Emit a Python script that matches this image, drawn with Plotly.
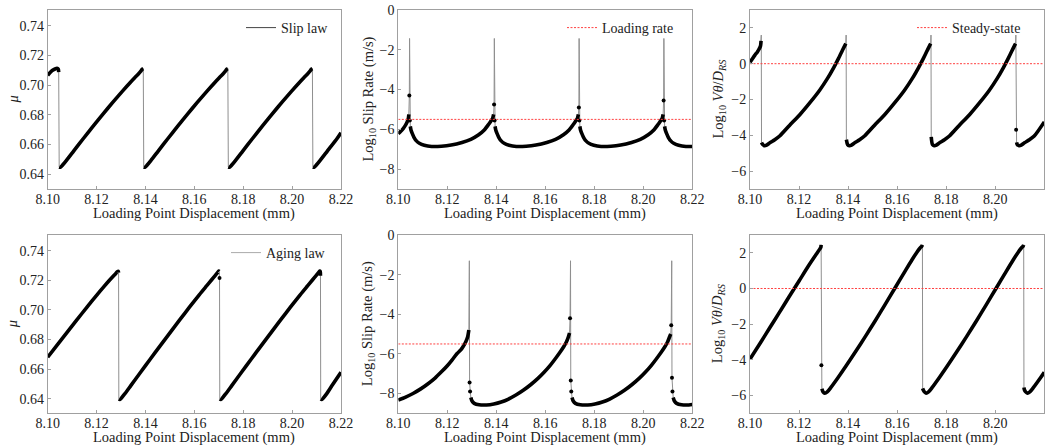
import plotly.graph_objects as go
from plotly.subplots import make_subplots

# ---------------- data ----------------
X_RANGE = [8.10, 8.22]
X_TICKS = [8.10, 8.12, 8.14, 8.16, 8.18, 8.20, 8.22]
MU_RANGE = [0.6301, 0.7506]
MU_TICKS = [0.64, 0.66, 0.68, 0.70, 0.72, 0.74]
V_RANGE = [-9, 0]
V_TICKS = [-8, -6, -4, -2, 0]
TH_RANGE = [-7, 3]
TH_TICKS = [-6, -4, -2, 0, 2]

LOADING_RATE_LOG10 = -5.5
STEADY_STATE_LOG10 = 0.0

# Slip law: friction coefficient
SLIP_MU_X = [8.1000, 8.1010, 8.1020, 8.1030, 8.1038, 8.1043, 8.1045,
             8.1047, 8.1052, 8.1061, 8.1076, 8.1106, 8.1146, 8.1186, 8.1226, 8.1266, 8.1306,
             8.1336, 8.1356, 8.1371, 8.1381, 8.1387, 8.1391,
             8.1393, 8.1398, 8.1407, 8.1422, 8.1452, 8.1492, 8.1532, 8.1572, 8.1612, 8.1652,
             8.1682, 8.1702, 8.1717, 8.1727, 8.1733, 8.1737,
             8.1739, 8.1744, 8.1753, 8.1768, 8.1798, 8.1838, 8.1878, 8.1918, 8.1958, 8.1998,
             8.2028, 8.2048, 8.2063, 8.2073, 8.2079, 8.2083,
             8.2085, 8.2090, 8.2099, 8.2114, 8.2144, 8.2184, 8.2200]
SLIP_MU_Y = [0.7066, 0.7085, 0.7100, 0.7109, 0.7113, 0.7108, 0.7088,
             0.6449, 0.6447, 0.6462, 0.6492, 0.6556, 0.6641, 0.6724, 0.6805, 0.6884, 0.6960,
             0.7015, 0.7050, 0.7075, 0.7094, 0.7108, 0.7112,
             0.6449, 0.6447, 0.6462, 0.6492, 0.6556, 0.6641, 0.6724, 0.6805, 0.6884, 0.6960,
             0.7015, 0.7050, 0.7075, 0.7094, 0.7108, 0.7112,
             0.6449, 0.6447, 0.6462, 0.6492, 0.6556, 0.6641, 0.6724, 0.6805, 0.6884, 0.6960,
             0.7015, 0.7050, 0.7075, 0.7094, 0.7108, 0.7112,
             0.6449, 0.6447, 0.6462, 0.6492, 0.6556, 0.6641, 0.6680]

# Slip law: log10 slip rate
SLIP_V_X = [8.1000, 8.1010, 8.1020, 8.1030, 8.1037, 8.1041, 8.1043, 8.1045, 8.1046,
            8.1047, 8.1049, 8.1052, 8.1056, 8.1064, 8.1074, 8.1086, 8.1106, 8.1136, 8.1176,
            8.1216, 8.1260, 8.1296, 8.1328, 8.1351, 8.1368, 8.1378, 8.1385, 8.1389, 8.1391, 8.1392,
            8.1393, 8.1395, 8.1398, 8.1402, 8.1410, 8.1420, 8.1432, 8.1452, 8.1482, 8.1522,
            8.1562, 8.1606, 8.1642, 8.1674, 8.1697, 8.1714, 8.1724, 8.1731, 8.1735, 8.1737, 8.1738,
            8.1739, 8.1741, 8.1744, 8.1748, 8.1756, 8.1766, 8.1778, 8.1798, 8.1828, 8.1868,
            8.1908, 8.1952, 8.1988, 8.2020, 8.2043, 8.2060, 8.2070, 8.2077, 8.2081, 8.2083, 8.2084,
            8.2085, 8.2087, 8.2090, 8.2094, 8.2102, 8.2112, 8.2124, 8.2144, 8.2174, 8.2200]
SLIP_V_Y = [-6.22, -6.10, -5.96, -5.78, -5.60, -5.45, -5.25, -4.30, -1.43,
            -5.55, -5.85, -6.05, -6.18, -6.40, -6.58, -6.70, -6.80, -6.86, -6.85,
            -6.79, -6.66, -6.50, -6.27, -6.03, -5.76, -5.58, -5.45, -5.25, -4.75, -1.43,
            -5.55, -5.85, -6.05, -6.18, -6.40, -6.58, -6.70, -6.80, -6.86, -6.85,
            -6.79, -6.66, -6.50, -6.27, -6.03, -5.76, -5.58, -5.45, -5.25, -4.90, -1.43,
            -5.55, -5.85, -6.05, -6.18, -6.40, -6.58, -6.70, -6.80, -6.86, -6.85,
            -6.79, -6.66, -6.50, -6.27, -6.03, -5.76, -5.58, -5.45, -5.25, -4.55, -1.43,
            -5.55, -5.85, -6.05, -6.18, -6.40, -6.58, -6.70, -6.80, -6.86, -6.86]

# Slip law: log10 (V theta / D_RS)
SLIP_TH_X = [8.1000, 8.1010, 8.1020, 8.1030, 8.1038, 8.1043, 8.1045, 8.1046,
             8.1047, 8.1052, 8.1059, 8.1068, 8.1081, 8.1101, 8.1121, 8.1161, 8.1203, 8.1246,
             8.1284, 8.1316, 8.1342, 8.1361, 8.1376, 8.1386, 8.1391, 8.1392,
             8.1393, 8.1398, 8.1405, 8.1414, 8.1427, 8.1447, 8.1467, 8.1507, 8.1549, 8.1592,
             8.1630, 8.1662, 8.1688, 8.1707, 8.1722, 8.1732, 8.1737, 8.1738,
             8.1739, 8.1744, 8.1751, 8.1760, 8.1773, 8.1793, 8.1813, 8.1853, 8.1895, 8.1938,
             8.1976, 8.2008, 8.2034, 8.2053, 8.2068, 8.2078, 8.2083, 8.2084,
             8.2085, 8.2087, 8.2090, 8.2097, 8.2106, 8.2119, 8.2139, 8.2159, 8.2200]
SLIP_TH_Y = [0.08, 0.28, 0.48, 0.66, 0.84, 1.00, 1.28, 1.60,
             -4.40, -4.52, -4.58, -4.55, -4.42, -4.25, -4.04, -3.45, -2.85, -2.15,
             -1.48, -0.82, -0.20, 0.30, 0.72, 1.00, 1.12, 1.60,
             -4.24, -4.52, -4.58, -4.55, -4.42, -4.25, -4.04, -3.45, -2.85, -2.15,
             -1.48, -0.82, -0.20, 0.30, 0.72, 1.00, 1.12, 1.60,
             -4.09, -4.52, -4.58, -4.55, -4.42, -4.25, -4.04, -3.45, -2.85, -2.15,
             -1.48, -0.82, -0.20, 0.30, 0.72, 1.00, 1.12, 1.60,
             -3.69, -4.39, -4.52, -4.58, -4.55, -4.42, -4.25, -4.04, -3.25]

# Aging law: friction coefficient
AGING_MU_X = [8.1000, 8.1040, 8.1080, 8.1120, 8.1160, 8.1200, 8.1230, 8.1250, 8.1265,
              8.1277, 8.1285, 8.1289, 8.1290,
              8.1291, 8.1295, 8.1302, 8.1315, 8.1340, 8.1380, 8.1420, 8.1460, 8.1500, 8.1540,
              8.1580, 8.1620, 8.1650, 8.1670, 8.1685, 8.1695, 8.1700, 8.1702, 8.1703,
              8.1704, 8.1708, 8.1715, 8.1728, 8.1753, 8.1793, 8.1833, 8.1873, 8.1913, 8.1953,
              8.1993, 8.2033, 8.2063, 8.2083, 8.2098, 8.2108, 8.2113, 8.2115, 8.2116,
              8.2117, 8.2121, 8.2128, 8.2141, 8.2166, 8.2200]
AGING_MU_Y = [0.6680, 0.6765, 0.6850, 0.6934, 0.7017, 0.7098, 0.7157, 0.7195, 0.7222,
              0.7243, 0.7257, 0.7260, 0.7252,
              0.6398, 0.6395, 0.6405, 0.6432, 0.6488, 0.6578, 0.6668, 0.6757, 0.6845, 0.6932,
              0.7018, 0.7102, 0.7162, 0.7202, 0.7232, 0.7252, 0.7262, 0.7260, 0.7215,
              0.6398, 0.6395, 0.6405, 0.6432, 0.6488, 0.6578, 0.6668, 0.6757, 0.6845, 0.6932,
              0.7018, 0.7102, 0.7162, 0.7202, 0.7232, 0.7252, 0.7262, 0.7260, 0.7230,
              0.6398, 0.6395, 0.6405, 0.6432, 0.6495, 0.6578]

# Aging law: log10 slip rate
AGING_V_X = [8.1000, 8.1030, 8.1060, 8.1090, 8.1120, 8.1150, 8.1175, 8.1200, 8.1220,
             8.1240, 8.1255, 8.1266, 8.1275, 8.1283, 8.1288, 8.1290,
             8.1291, 8.1293, 8.1296, 8.1301, 8.1310, 8.1330, 8.1360, 8.1390, 8.1420, 8.1450,
             8.1480, 8.1510, 8.1540, 8.1570, 8.1595, 8.1620, 8.1640, 8.1660, 8.1675, 8.1686,
             8.1694, 8.1699, 8.1701, 8.1703,
             8.1704, 8.1706, 8.1709, 8.1714, 8.1723, 8.1743, 8.1773, 8.1803, 8.1833, 8.1863,
             8.1893, 8.1923, 8.1953, 8.1983, 8.2008, 8.2033, 8.2053, 8.2073, 8.2088, 8.2099,
             8.2107, 8.2112, 8.2114, 8.2116,
             8.2117, 8.2119, 8.2122, 8.2127, 8.2136, 8.2156, 8.2186, 8.2200]
AGING_V_Y = [-8.33, -8.18, -8.00, -7.78, -7.52, -7.22, -6.92, -6.60, -6.30,
             -5.98, -5.80, -5.60, -5.40, -5.15, -4.80, -1.30,
             -7.45, -7.90, -8.20, -8.38, -8.50, -8.57, -8.58, -8.53, -8.43, -8.28,
             -8.08, -7.84, -7.56, -7.24, -6.93, -6.58, -6.26, -5.92, -5.64, -5.40,
             -5.15, -4.95, -4.20, -1.30,
             -7.35, -7.90, -8.20, -8.38, -8.50, -8.57, -8.58, -8.53, -8.43, -8.28,
             -8.08, -7.84, -7.56, -7.24, -6.93, -6.58, -6.26, -5.92, -5.64, -5.40,
             -5.15, -5.00, -4.55, -1.30,
             -7.20, -7.90, -8.20, -8.38, -8.50, -8.57, -8.58, -8.56]

# Aging law: log10 (V theta / D_RS)
AGING_TH_X = [8.1000, 8.1040, 8.1080, 8.1120, 8.1160, 8.1200, 8.1240, 8.1270, 8.1285,
              8.1289, 8.1290,
              8.1291, 8.1293, 8.1298, 8.1305, 8.1315, 8.1330, 8.1360, 8.1390, 8.1430, 8.1470,
              8.1510, 8.1550, 8.1590, 8.1630, 8.1660, 8.1680, 8.1695, 8.1700, 8.1703,
              8.1704, 8.1706, 8.1711, 8.1718, 8.1728, 8.1743, 8.1773, 8.1803, 8.1843, 8.1883,
              8.1923, 8.1963, 8.2003, 8.2043, 8.2073, 8.2093, 8.2108, 8.2113, 8.2116,
              8.2117, 8.2119, 8.2124, 8.2131, 8.2141, 8.2156, 8.2186, 8.2200]
AGING_TH_Y = [-3.96, -3.10, -2.22, -1.34, -0.45, 0.42, 1.30, 1.92, 2.22,
              2.32, 2.45,
              -4.30, -5.62, -5.80, -5.87, -5.80, -5.55, -4.98, -4.38, -3.55, -2.70,
              -1.82, -0.92, 0.00, 0.92, 1.60, 2.02, 2.30, 2.36, 2.45,
              -5.60, -5.68, -5.80, -5.87, -5.80, -5.55, -4.98, -4.38, -3.55, -2.70,
              -1.82, -0.92, 0.00, 0.92, 1.60, 2.02, 2.30, 2.36, 2.45,
              -5.55, -5.68, -5.80, -5.87, -5.80, -5.55, -4.98, -4.70]

X_TITLE = "Loading Point Displacement (mm)"
MU_TITLE = "<i>μ</i>"
V_TITLE = "Log<sub>10</sub> Slip Rate (m/s)"
TH_TITLE = "Log<sub>10</sub> <i>Vθ</i>/<i>D<sub>RS</sub></i>"

# ---------------- figure ----------------
FONT = "Liberation Serif"
TEXT = "#222222"
FRAME = "#a0a0a0"
W, H = 1056, 447

fig = make_subplots(rows=2, cols=3)

X_PX = [(47.7, 341.0), (398.3, 692.3), (750.0, 1044.3)]
Y_PX = [(10.0, 189.0), (235.0, 413.3)]
X_DOMAINS = [[a / W, b / W] for a, b in X_PX]
Y_DOMAINS = [[1 - b / H, 1 - a / H] for a, b in Y_PX]

panels = [
    (1, 1, SLIP_MU_X, SLIP_MU_Y, MU_RANGE, MU_TICKS, MU_TITLE, ".2f"),
    (1, 2, SLIP_V_X, SLIP_V_Y, V_RANGE, V_TICKS, V_TITLE, "d"),
    (1, 3, SLIP_TH_X, SLIP_TH_Y, TH_RANGE, TH_TICKS, TH_TITLE, "d"),
    (2, 1, AGING_MU_X, AGING_MU_Y, MU_RANGE, MU_TICKS, MU_TITLE, ".2f"),
    (2, 2, AGING_V_X, AGING_V_Y, V_RANGE, V_TICKS, V_TITLE, "d"),
    (2, 3, AGING_TH_X, AGING_TH_Y, TH_RANGE, TH_TICKS, TH_TITLE, "d"),
]

XSPAN = X_RANGE[1] - X_RANGE[0]


def classify(x, y, yspan):
    jumps = []
    for i in range(len(x) - 1):
        dy = abs(y[i + 1] - y[i]) / yspan
        dx = abs(x[i + 1] - x[i]) / XSPAN
        jumps.append(dy > 0.03 and dy / max(dx, 1e-9) > 12)
    return jumps


for (r, c, xs, ys, yr, yt, ytitle, yfmt) in panels:
    yspan = yr[1] - yr[0]
    jumps = classify(xs, ys, yspan)
    fig.add_trace(go.Scatter(x=xs, y=ys, mode="lines", line=dict(color="#8f8f8f", width=1),
                             showlegend=False, hoverinfo="skip"), row=r, col=c)
    bx, by = [], []
    for i, j in enumerate(jumps):
        if not j:
            if not (bx and bx[-1] is not None and bx[-1] == xs[i]):
                if bx:
                    bx.append(None)
                    by.append(None)
                bx.append(xs[i])
                by.append(ys[i])
            bx.append(xs[i + 1])
            by.append(ys[i + 1])
    fig.add_trace(go.Scatter(x=bx, y=by, mode="lines",
                             line=dict(color="black", width=3.6, shape="spline", smoothing=0.7),
                             showlegend=False, hoverinfo="skip", connectgaps=False), row=r, col=c)
    mx, my = [], []
    for i in range(len(xs)):
        left = jumps[i - 1] if i > 0 else False
        right = jumps[i] if i < len(jumps) else False
        if left and right:
            extremum = (ys[i] - ys[i - 1]) * (ys[i + 1] - ys[i]) < 0
            if not extremum:
                mx.append(xs[i])
                my.append(ys[i])
    if mx:
        fig.add_trace(go.Scatter(x=mx, y=my, mode="markers", marker=dict(color="black", size=4),
                                 showlegend=False, hoverinfo="skip"), row=r, col=c)

RED = "#ff4040"
RED_DASH = "2px,1.5px"
for r in (1, 2):
    fig.add_trace(go.Scatter(x=X_RANGE, y=[LOADING_RATE_LOG10, LOADING_RATE_LOG10], mode="lines",
                             line=dict(color=RED, width=1, dash=RED_DASH),
                             name="Loading rate", showlegend=(r == 1), legend="legend2",
                             hoverinfo="skip"), row=r, col=2)
    fig.add_trace(go.Scatter(x=X_RANGE, y=[STEADY_STATE_LOG10, STEADY_STATE_LOG10], mode="lines",
                             line=dict(color=RED, width=1, dash=RED_DASH),
                             name="Steady-state", showlegend=(r == 1), legend="legend3",
                             hoverinfo="skip"), row=r, col=3)

fig.add_trace(go.Scatter(x=[None], y=[None], mode="lines", line=dict(color="#444444", width=1),
                         name="Slip law", legend="legend"), row=1, col=1)
fig.add_trace(go.Scatter(x=[None], y=[None], mode="lines", line=dict(color="#aaaaaa", width=1),
                         name="Aging law", legend="legend4"), row=2, col=1)

annotations = []
for (r, c, xs, ys, yr, yt, ytitle, yfmt) in panels:
    idx = (r - 1) * 3 + c
    xa = "xaxis" if idx == 1 else f"xaxis{idx}"
    ya = "yaxis" if idx == 1 else f"yaxis{idx}"
    fig.layout[xa].update(
        domain=X_DOMAINS[c - 1], range=X_RANGE, tickvals=X_TICKS, tickformat=".2f",
        showline=True, mirror=True, linecolor=FRAME, linewidth=1, showgrid=False, zeroline=False,
        ticks="inside", ticklen=3, tickcolor=FRAME, automargin=False, ticklabelstandoff=-3,
        tickfont=dict(family=FONT, size=14, color=TEXT),
    )
    fig.layout[ya].update(
        domain=Y_DOMAINS[r - 1], range=yr, tickvals=yt, tickformat=yfmt,
        showline=True, mirror=True, linecolor=FRAME, linewidth=1, showgrid=False, zeroline=False,
        ticks="inside", ticklen=3, tickcolor=FRAME, automargin=False, ticklabelstandoff=0,
        tickfont=dict(family=FONT, size=14, color=TEXT),
    )
    x0, x1 = X_PX[c - 1]
    y0, y1 = Y_PX[r - 1]
    annotations.append(dict(text=X_TITLE, xref="paper", yref="paper",
                            x=(x0 + x1) / 2 / W, y=1 - (y1 + 24) / H,
                            xanchor="center", yanchor="middle", showarrow=False,
                            font=dict(family=FONT, size=14.5, color=TEXT)))
    ytx = {1: 12, 2: 368, 3: 718}[c]
    annotations.append(dict(text=ytitle, xref="paper", yref="paper",
                            x=ytx / W, y=1 - (y0 + y1) / 2 / H, textangle=-90,
                            xanchor="center", yanchor="middle", showarrow=False,
                            font=dict(family=FONT, size=14.5, color=TEXT)))

legend_style = dict(bgcolor="rgba(0,0,0,0)", borderwidth=0, font=dict(family=FONT, size=14, color=TEXT),
                    xanchor="left", yanchor="top", itemwidth=30, tracegroupgap=0)
fig.update_layout(
    template="none",
    width=W, height=H,
    margin=dict(l=0, r=0, t=0, b=0),
    paper_bgcolor="white", plot_bgcolor="white",
    font=dict(family=FONT, size=14, color=TEXT),
    annotations=annotations,
    legend=dict(x=241 / W, y=1 - 12 / H, **legend_style),
    legend2=dict(x=562 / W, y=1 - 12 / H, **legend_style),
    legend3=dict(x=912 / W, y=1 - 12 / H, **legend_style),
    legend4=dict(x=226 / W, y=1 - 237 / H, **legend_style),
)

fig.write_html("out.html")
